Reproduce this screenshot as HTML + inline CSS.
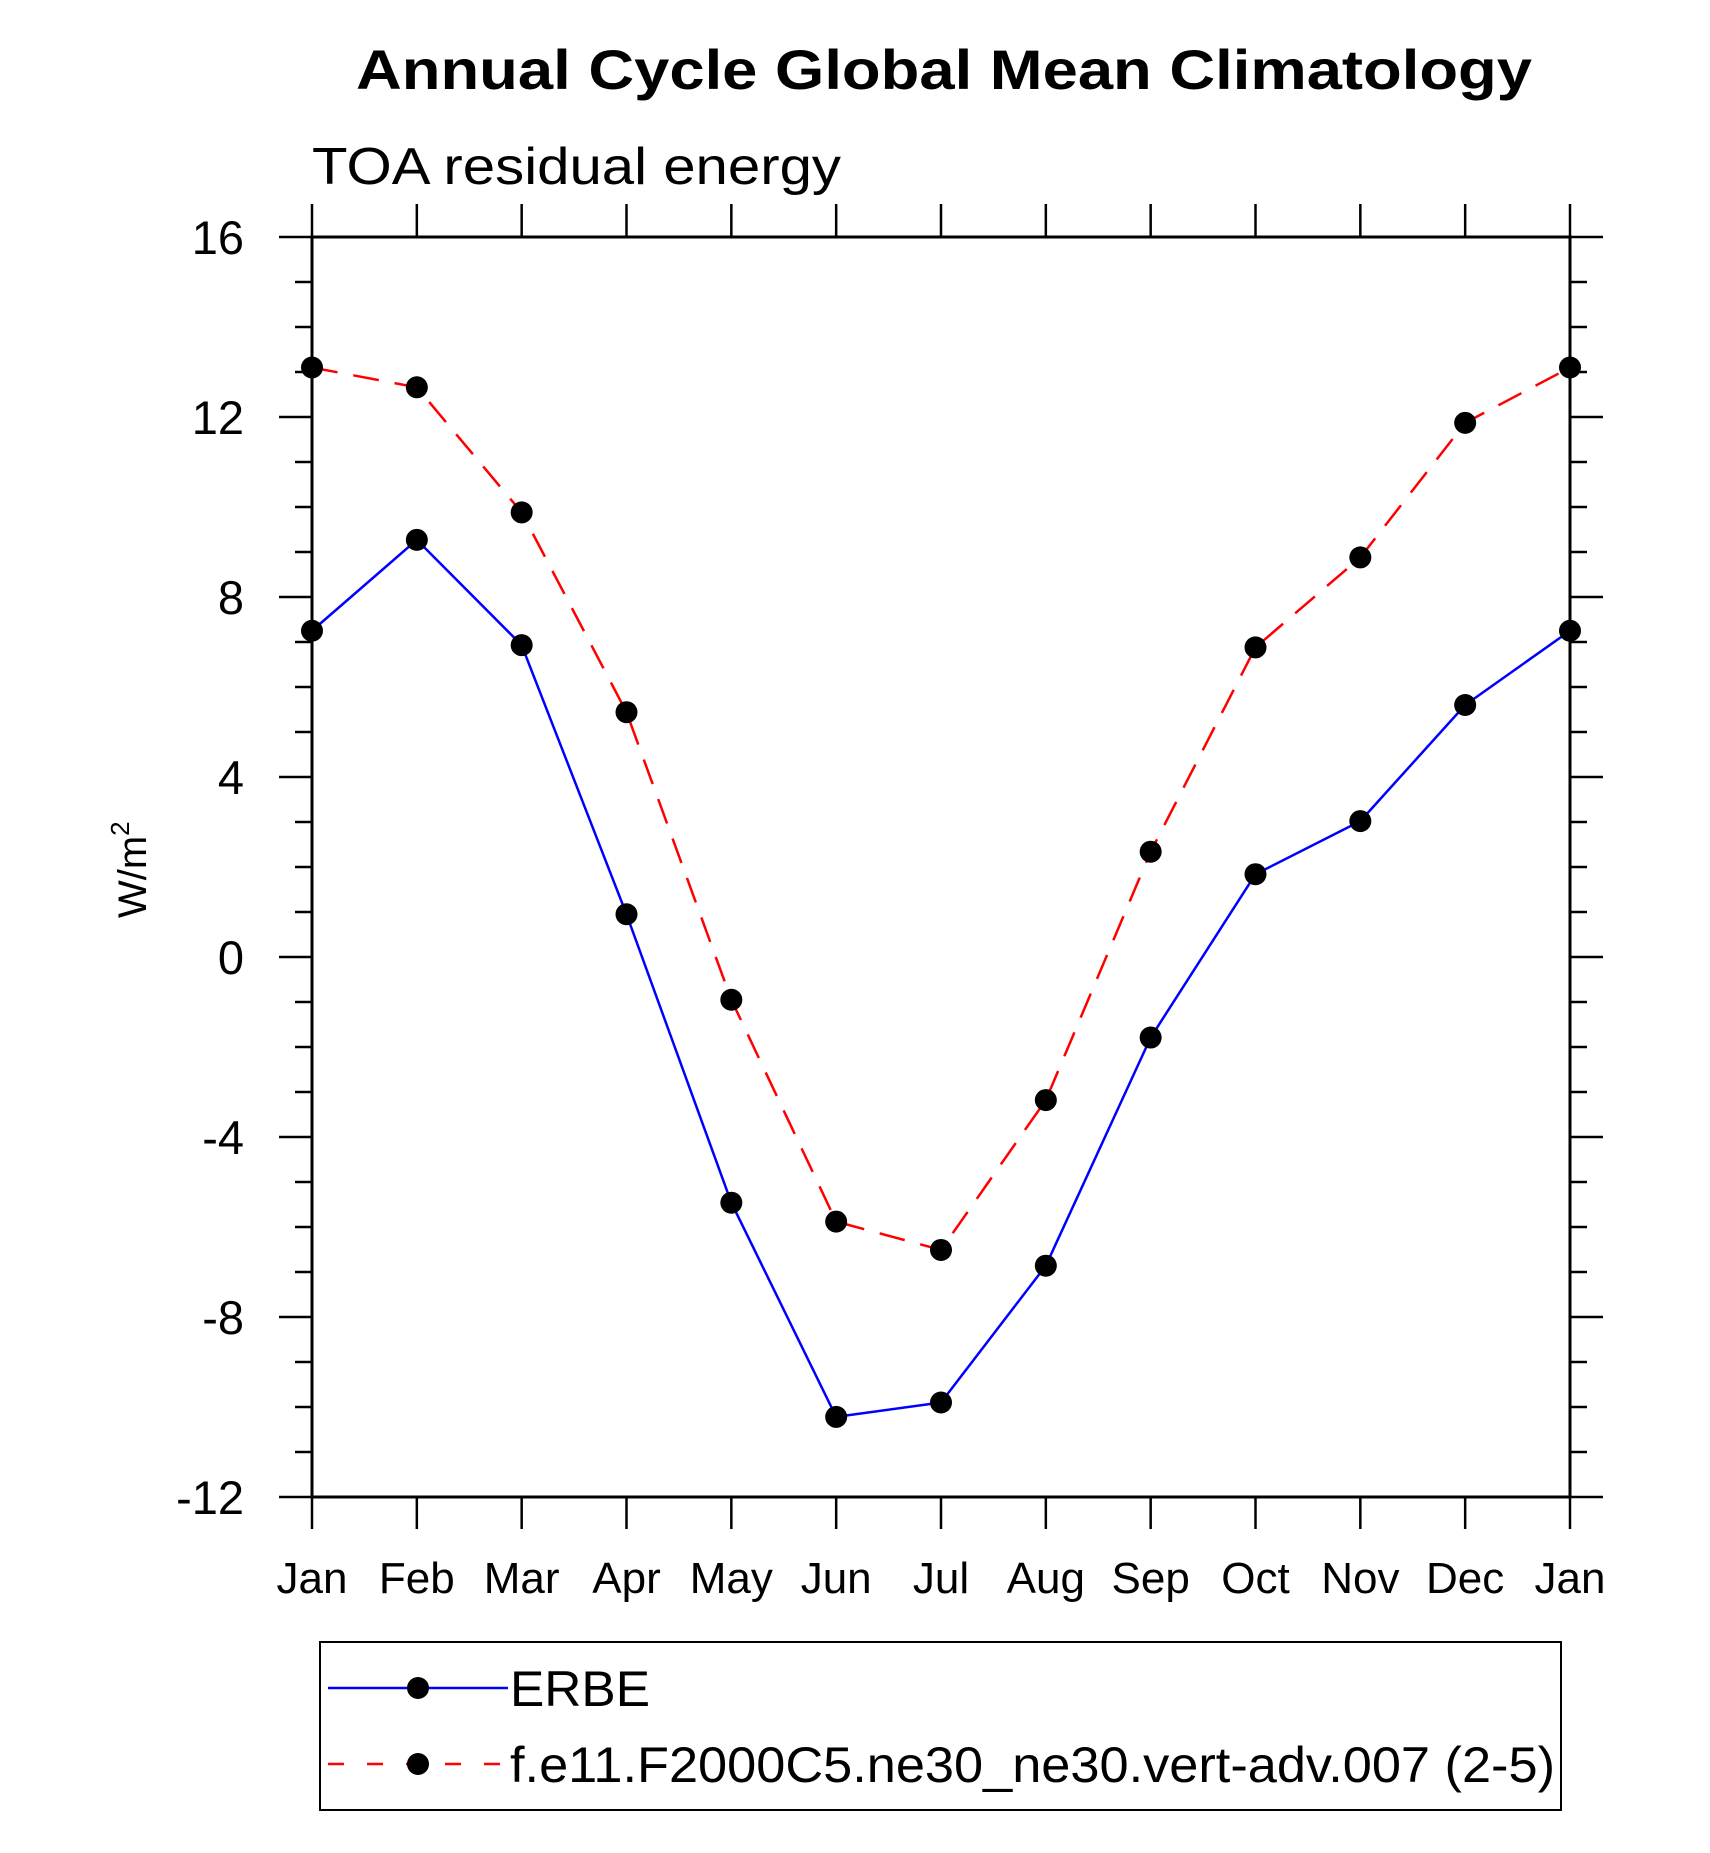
<!DOCTYPE html>
<html><head><meta charset="utf-8"><style>
html,body{margin:0;padding:0;background:#fff}
svg{display:block;font-family:"Liberation Sans",Arial,sans-serif}
</style></head><body>
<svg id="chart" width="1710" height="1853" viewBox="0 0 1710 1853" xmlns="http://www.w3.org/2000/svg">
<text x="944" y="89" text-anchor="middle" font-size="56" font-weight="bold" textLength="1176" lengthAdjust="spacingAndGlyphs">Annual Cycle Global Mean Climatology</text>
<text x="312" y="184" font-size="52" textLength="529" lengthAdjust="spacingAndGlyphs">TOA residual energy</text>
<text transform="translate(146,918) rotate(-90)" font-size="40">W/m<tspan font-size="26" dy="-17">2</tspan></text>
<g id="axes"></g>
<g id="series"></g>
<g>
<rect x="320" y="1642" width="1241" height="168" fill="none" stroke="#000" stroke-width="2"/>
<g>
<line x1="328" y1="1688" x2="508" y2="1688" stroke="#00f" stroke-width="2.5"/>
<circle cx="418" cy="1688" r="11" fill="#000"/>
<text x="510" y="1706" font-size="50" textLength="140" lengthAdjust="spacingAndGlyphs">ERBE</text>
</g>
<g>
<line x1="328" y1="1764" x2="508" y2="1764" stroke="#f00" stroke-width="2.5" stroke-dasharray="16,23"/>
<circle cx="418" cy="1764" r="11" fill="#000"/>
<text x="510" y="1782" font-size="50" textLength="1045" lengthAdjust="spacingAndGlyphs">f.e11.F2000C5.ne30_ne30.vert-adv.007 (2-5)</text>
</g>
</g>
</svg>
<script>
const months = ["Jan","Feb","Mar","Apr","May","Jun","Jul","Aug","Sep","Oct","Nov","Dec","Jan"];
const erbe = [7.25,9.27,6.93,0.95,-5.46,-10.22,-9.9,-6.86,-1.79,1.84,3.02,5.6,7.25];
const model = [13.1,12.66,9.88,5.44,-0.95,-5.88,-6.51,-3.18,2.34,6.88,8.88,11.87,13.1];
const yTicks = [16,12,8,4,0,-4,-8,-12];
const yMin = -12, yMax = 16;
const L=312,R=1570,T=237,B=1497;
const NS="http://www.w3.org/2000/svg";
function xs(i){return L+(R-L)*i/(months.length-1);}
function ys(v){return B-(B-T)*(v-yMin)/(yMax-yMin);}
function mk(tag,attrs,parent){const e=document.createElementNS(NS,tag);for(const k in attrs)e.setAttribute(k,attrs[k]);parent.appendChild(e);return e;}
const ax=document.getElementById('axes');
const frame=mk('rect',{x:L,y:T,width:R-L,height:B-T,fill:'none',stroke:'#000','stroke-width':3},ax);


for(let v=yMin;v<=yMax;v++){
  const y=ys(v);const major=(v%4===0);const len=major?33:17;
  mk('line',{x1:L-len,y1:y,x2:L,y2:y,stroke:'#000','stroke-width':2.5},ax);
  mk('line',{x1:R,y1:y,x2:R+len,y2:y,stroke:'#000','stroke-width':2.5},ax);
}
yTicks.forEach(v=>{
  const t=mk('text',{x:244,y:ys(v)+17,'text-anchor':'end','font-size':47},ax);
  t.textContent=v;
  
  
});
months.forEach((m,i)=>{
  const x=xs(i);
  mk('line',{x1:x,y1:B,x2:x,y2:B+32,stroke:'#000','stroke-width':2.5},ax);
  mk('line',{x1:x,y1:T-33,x2:x,y2:T,stroke:'#000','stroke-width':2.5},ax);
  const t=mk('text',{x:x,y:1593,'text-anchor':'middle','font-size':44},ax);
  t.textContent=m;
  
  
});
const sg=document.getElementById('series');
function drawSeries(vals,color,dash,name){
  const pts=vals.map((v,i)=>xs(i)+','+ys(v)).join(' ');
  const pl=mk('polyline',{points:pts,fill:'none',stroke:color,'stroke-width':2.5,'stroke-linejoin':'round'},sg);
  if(dash)pl.setAttribute('stroke-dasharray',dash);
  
  
  vals.forEach((v,i)=>{
    const c=mk('circle',{cx:xs(i),cy:ys(v),r:11,fill:'#000'},sg);
    
    
  });
}
drawSeries(erbe,'#00f',null,'erbe');
drawSeries(model,'#f00','26,16','model');
</script>
</body></html>
